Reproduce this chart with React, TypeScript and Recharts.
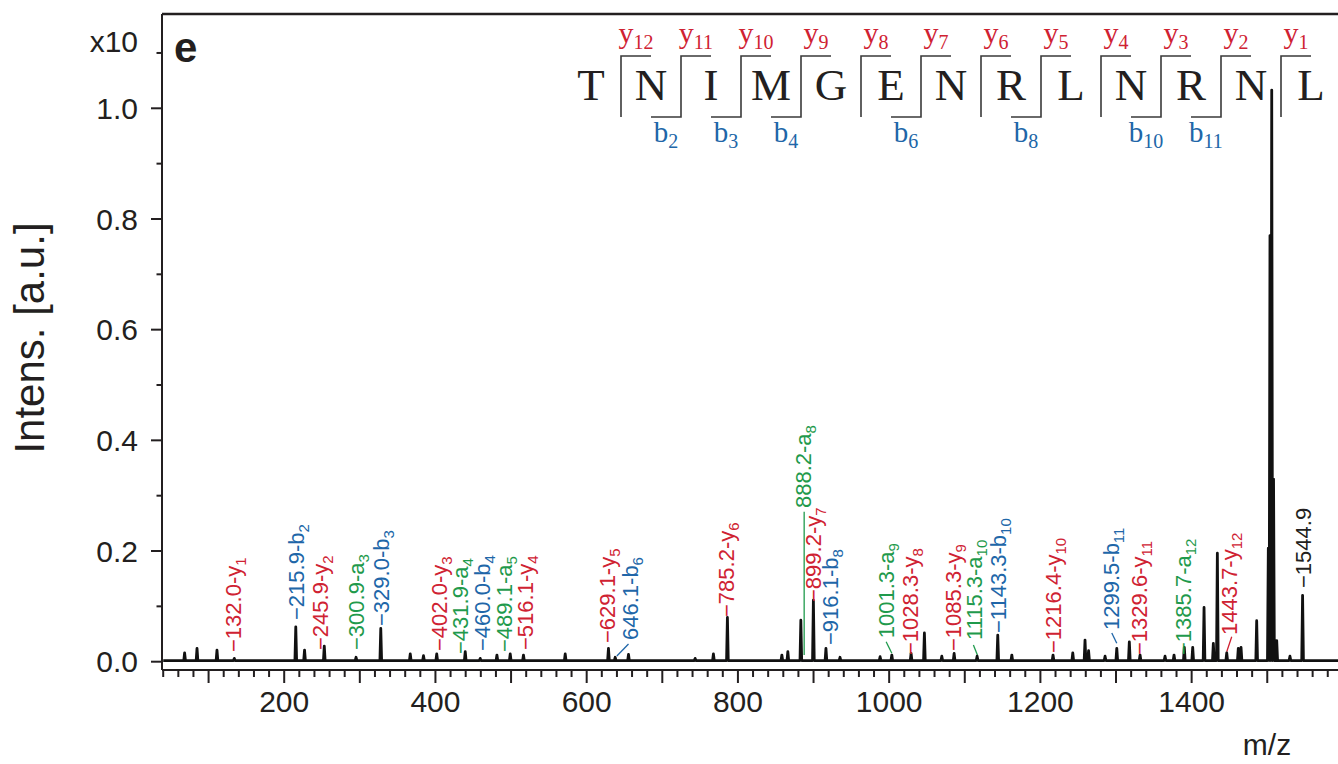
import React from "react";
import {
  ComposedChart,
  Line,
  Scatter,
  XAxis,
  YAxis,
  ReferenceLine,
} from "recharts";

const SANS = "'Liberation Sans', Arial, Helvetica, sans-serif";
const SERIF = "'Liberation Serif', 'Times New Roman', serif";
const INK = "#231f20";
const ION_COLORS: Record<string, string> = {
  y: "#cf2232",
  b: "#2066a8",
  a: "#1f9a4c",
  "": "#231f20",
};

// spectrum peaks (m/z, intensity x10)
const peakMz = [
  68.3, 84.7, 111.1, 134, 215.3, 226.9, 253, 295, 327.7, 366.7, 384.2, 401.7,
  439.4, 459.2, 481.3, 498.9, 516.4, 571.6, 628.8, 637.7, 655.3, 743.4, 767.6,
  786.1, 858.1, 866, 883.2, 899.8, 916.4, 935, 988, 1003.5, 1029, 1046.6,
  1069.6, 1085.9, 1116.3, 1143.6, 1162.2, 1216.7, 1242.8, 1259, 1263.7,
  1285.5, 1301, 1317.6, 1331.8, 1364.8, 1376.7, 1390.3, 1401.4, 1416.4,
  1428.7, 1434, 1446.4, 1461.7, 1465.3, 1486, 1501.4, 1503.6, 1505.9, 1508.3,
  1512.5, 1530, 1546.7,
];
const peakInt = [
  0.016, 0.024, 0.021, 0.006, 0.063, 0.021, 0.028, 0.008, 0.06, 0.014, 0.011,
  0.014, 0.018, 0.006, 0.012, 0.014, 0.012, 0.014, 0.024, 0.008, 0.013, 0.006,
  0.014, 0.08, 0.012, 0.018, 0.075, 0.111, 0.024, 0.008, 0.009, 0.012, 0.015,
  0.052, 0.01, 0.015, 0.01, 0.048, 0.012, 0.012, 0.016, 0.039, 0.02, 0.01,
  0.024, 0.036, 0.012, 0.01, 0.012, 0.026, 0.026, 0.098, 0.033, 0.196, 0.016,
  0.024, 0.026, 0.074, 0.205, 0.77, 1.033, 0.33, 0.038, 0.01, 0.12,
];
const BASE = 0.002;

// fragment labels: anchor position, text, ion type, ion number
const labelMz = [
  133, 215.7, 247.7, 296.2, 329.2, 406, 432.8, 461.8, 490.9, 518.7, 627.8,
  657.5, 785.4, 887, 899.4, 921.9, 996.9, 1027.7, 1085.2, 1112.3, 1144,
  1216.7, 1293.4, 1330.4, 1388.6, 1450.7, 1547.3,
];
const labelInt = [
  0.0175, 0.0754, 0.0211, 0.0211, 0.0645, 0.0193, 0.0139, 0.0193, 0.0175,
  0.0211, 0.0337, 0.0392, 0.0808, 0.2777, 0.1079, 0.0302, 0.0423, 0.0121,
  0.0193, 0.0392, 0.0519, 0.0157, 0.0573, 0.0121, 0.0121, 0.0484, 0.1332,
];
const labelMass = [
  "132.0", "215.9", "245.9", "300.9", "329.0", "402.0", "431.9", "460.0",
  "489.1", "516.1", "629.1", "646.1", "785.2", "888.2", "899.2", "916.1",
  "1001.3", "1028.3", "1085.3", "1115.3", "1143.3", "1216.4", "1299.5",
  "1329.6", "1385.7", "1443.7", "1544.9",
];
const labelIon = [
  "y", "b", "y", "a", "b", "y", "a", "b", "a", "y", "y", "b", "y", "a", "y",
  "b", "a", "y", "y", "a", "b", "y", "b", "y", "a", "y", "",
];
const labelNum = [
  "1", "2", "2", "3", "3", "3", "4", "4", "5", "4", "5", "6", "6", "8", "7",
  "8", "9", "8", "9", "10", "10", "10", "11", "11", "12", "12", "",
];
const labelDash = [
  true, true, true, true, true, true, true, true, true, true, true, false,
  true, false, true, true, false, true, true, false, true, true, false, true,
  true, false, true,
];

// separate leader lines (peak -> label)
const leaderIon = ["b", "a", "a", "a", "b", "y"];
const leaderFrom = [
  [639.9, 0.0103], [887.6, 0.0121], [1003.5, 0.0152], [1116.7, 0.0121],
  [1301.0, 0.0332], [1446.4, 0.0181],
];
const leaderTo = [
  [655.3, 0.0321], [887.6, 0.271], [996.0, 0.0361], [1111.4, 0.0302],
  [1294.4, 0.0519], [1453.0, 0.0452],
];

// peptide sequence with fragment cleavage sites
const residues = ["T", "N", "I", "M", "G", "E", "N", "R", "L", "N", "R", "N", "L"];
const bSites = [2, 3, 4, 6, 8, 10, 11];

const X_MIN = 38.4;
const X_MAX = 1602.8;
const Y_MIN = -0.015;
const Y_MAX = 1.1704;
const xTicks = Array.from({ length: 79 }, (_, i) => 40 + i * 20);
const yTicks = [0, 0.1, 0.2, 0.3, 0.4, 0.5, 0.6, 0.7, 0.8, 0.9, 1.0, 1.1];

const spectrum: { mz: number; int: number }[] = [{ mz: 40, int: BASE }];
peakMz.forEach((mz, i) => {
  const prev = peakMz[i - 1];
  const next = peakMz[i + 1];
  if (prev === undefined || mz - prev > 2) spectrum.push({ mz: mz - 1.1, int: BASE });
  spectrum.push({ mz, int: peakInt[i] });
  if (next === undefined || next - mz > 2) spectrum.push({ mz: mz + 1.1, int: BASE });
});
spectrum.push({ mz: 1600, int: BASE });

const labels = labelMz.map((mz, i) => ({
  mz,
  int: labelInt[i],
  mass: labelMass[i],
  ion: labelIon[i],
  num: labelNum[i],
  dash: labelDash[i],
}));

const LabelShape = (props: any) => {
  const { cx, cy, payload } = props;
  if (cx == null || cy == null) return null;
  return (
    <text
      x={cx}
      y={cy}
      dy={7.5}
      transform={`rotate(-90 ${cx} ${cy})`}
      fill={ION_COLORS[payload.ion]}
      fontSize={22}
      fontFamily={SANS}
    >
      {payload.dash ? "\u2212" : ""}
      {payload.mass}
      {payload.ion ? `-${payload.ion}` : ""}
      {payload.num ? (
        <tspan fontSize={15} dy={5}>
          {payload.num}
        </tspan>
      ) : null}
    </text>
  );
};

const XTick = (props: any) => {
  const { x, y, payload } = props;
  const v = payload.value;
  const major = v % 100 === 0;
  return (
    <g>
      <line x1={x} x2={x} y1={y} y2={y + (major ? 13 : 7)} stroke={INK} strokeWidth={2} />
      {v % 200 === 0 && v <= 1400 ? (
        <text x={x} y={y + 42} textAnchor="middle" fontSize={30} fontFamily={SANS} fill={INK}>
          {v}
        </text>
      ) : null}
    </g>
  );
};

const YTick = (props: any) => {
  const { x, y, payload } = props;
  const k = Math.round(payload.value * 10);
  const major = k % 2 === 0 && k <= 10;
  return (
    <g>
      <line x1={x - (major ? 11 : 5.5)} x2={x} y1={y} y2={y} stroke={INK} strokeWidth={2} />
      {major ? (
        <text x={x - 24} y={y} dy="0.36em" textAnchor="end" fontSize={30} fontFamily={SANS} fill={INK}>
          {(k / 10).toFixed(1)}
        </text>
      ) : null}
    </g>
  );
};

const SEQ_X0 = 591;
const SEQ_STEP = 60;
const HOOK = 30;

function Overlay() {
  return (
    <svg
      width={1338}
      height={764}
      style={{ position: "absolute", left: 0, top: 0, pointerEvents: "none" }}
    >
      <text x={174} y={62} fontSize={42} fontWeight="bold" fontFamily={SANS} fill={INK}>
        e
      </text>
      <text x={138} y={52} textAnchor="end" fontSize={30} fontFamily={SANS} fill={INK}>
        x10
      </text>
      <text
        x={44}
        y={338}
        transform="rotate(-90 44 338)"
        textAnchor="middle"
        fontSize={42}
        fontFamily={SANS}
        fill={INK}
      >
        Intens. [a.u.]
      </text>
      <text x={1267} y={755} textAnchor="middle" fontSize={30} fontFamily={SANS} fill={INK}>
        m/z
      </text>

      {residues.map((r, i) => (
        <text
          key={`r${i}`}
          x={SEQ_X0 + i * SEQ_STEP}
          y={100}
          textAnchor="middle"
          fontSize={45}
          fontFamily={SERIF}
          fill={INK}
        >
          {r}
        </text>
      ))}
      {residues.slice(1).map((_, j) => {
        const s = j + 1;
        const sx = SEQ_X0 + SEQ_STEP * (s - 0.5);
        const hasB = bSites.includes(s);
        return (
          <g key={`s${s}`}>
            <path
              d={`M${sx + HOOK},56 H${sx} V117` + (hasB ? ` H${sx - HOOK}` : "")}
              fill="none"
              stroke="#3a3a3a"
              strokeWidth={1.6}
            />
            <text
              x={sx + 15}
              y={43}
              textAnchor="middle"
              fontSize={30}
              fontFamily={SERIF}
              fill={ION_COLORS.y}
            >
              y
              <tspan fontSize={20} dy={6}>
                {residues.length - s}
              </tspan>
            </text>
            {hasB ? (
              <text
                x={sx - 15}
                y={142}
                textAnchor="middle"
                fontSize={29}
                fontFamily={SERIF}
                fill={ION_COLORS.b}
              >
                b
                <tspan fontSize={20} dy={6}>
                  {s}
                </tspan>
              </text>
            ) : null}
          </g>
        );
      })}
    </svg>
  );
}

export default function App() {
  return (
    <div
      style={{
        position: "absolute",
        left: 0,
        top: 0,
        width: 1338,
        height: 764,
        overflow: "hidden",
        background: "#fff",
      }}
    >
      <ComposedChart
        width={1350}
        height={764}
        margin={{ top: 14, right: 5, bottom: 0, left: 0 }}
      >
        <XAxis
          dataKey="mz"
          type="number"
          domain={[X_MIN, X_MAX]}
          allowDataOverflow
          ticks={xTicks}
          interval={0}
          tick={<XTick />}
          tickLine={false}
          tickSize={0}
          tickMargin={0}
          height={94}
          axisLine={{ stroke: INK, strokeWidth: 2 }}
        />
        <YAxis
          type="number"
          domain={[Y_MIN, Y_MAX]}
          allowDataOverflow
          ticks={yTicks}
          interval={0}
          tick={<YTick />}
          tickLine={false}
          tickSize={0}
          tickMargin={0}
          width={162}
          axisLine={{ stroke: INK, strokeWidth: 2 }}
        />
        <ReferenceLine y={Y_MAX} stroke={INK} strokeWidth={2.5} />
        {leaderFrom.map((f, i) => (
          <ReferenceLine
            key={`ld${i}`}
            segment={[
              { x: f[0], y: f[1] },
              { x: leaderTo[i][0], y: leaderTo[i][1] },
            ]}
            stroke={ION_COLORS[leaderIon[i]]}
            strokeWidth={1.3}
          />
        ))}
        <Line
          data={spectrum}
          dataKey="int"
          type="linear"
          dot={false}
          activeDot={false}
          stroke="#111"
          strokeWidth={2.8}
          strokeLinejoin="round"
          isAnimationActive={false}
        />
        <Scatter
          data={labels}
          dataKey="int"
          shape={LabelShape}
          isAnimationActive={false}
        />
      </ComposedChart>
      <Overlay />
    </div>
  );
}
